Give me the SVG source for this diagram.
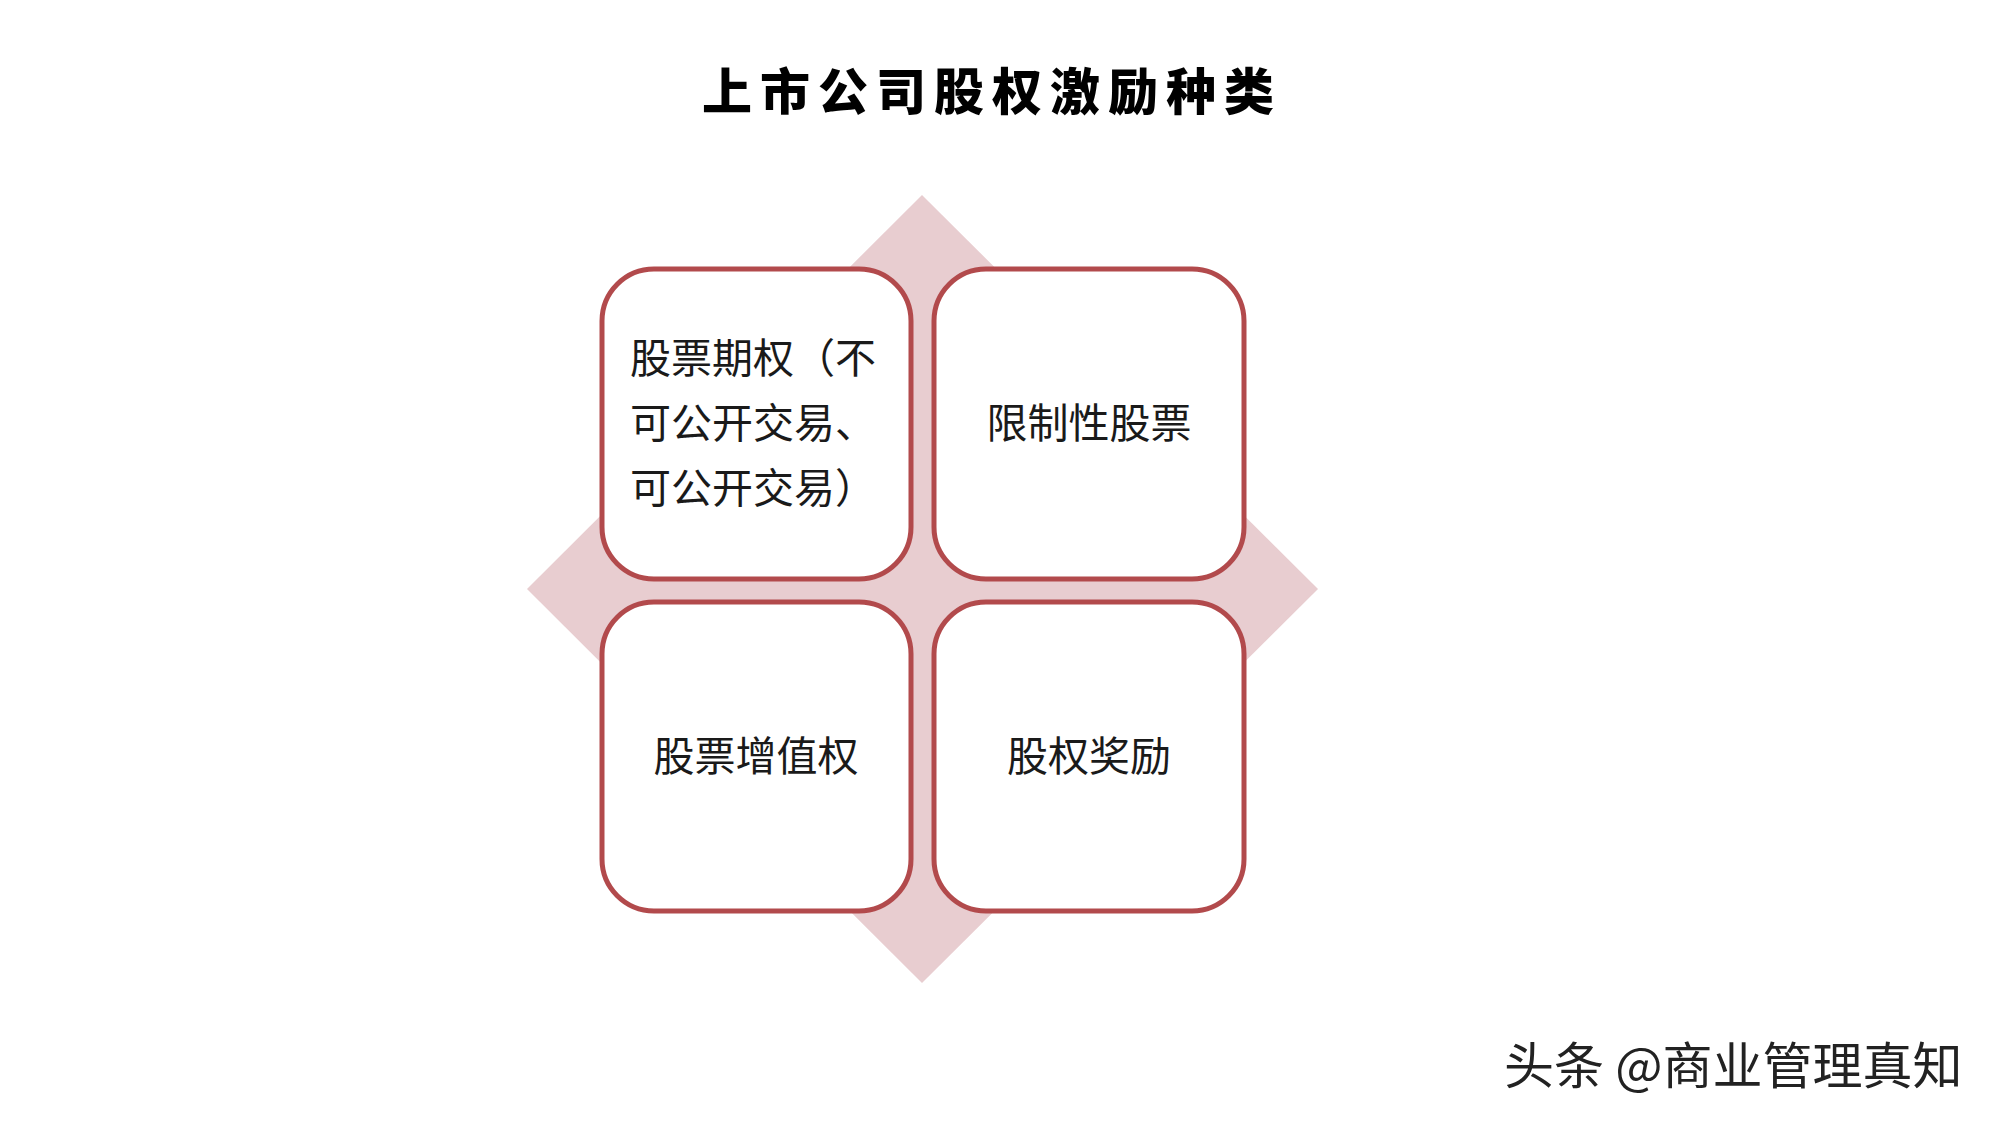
<svg xmlns="http://www.w3.org/2000/svg" width="2000" height="1125" viewBox="0 0 2000 1125">
<style>
.box{fill:#fff;stroke:#b24a4c;stroke-width:5}
.t{font-family:"Noto Sans CJK SC","Noto Sans",sans-serif;font-size:41px;fill:#1a1a1a}
</style>
<rect width="2000" height="1125" fill="#fff"/>
<text x="992" y="110" text-anchor="middle" font-family="Noto Sans CJK SC,sans-serif" font-weight="900" font-size="50" letter-spacing="8" fill="#000">上市公司股权激励种类</text>
<polygon points="922,195 1318,589 922,983 527,589" fill="#e8cdd0"/>
<g id="n1"><rect class="box" x="602" y="269" width="309" height="310" rx="52"/>
<text class="t" x="630" y="373">股票期权（不</text><text class="t" x="630" y="438">可公开交易、</text><text class="t" x="630" y="503">可公开交易）</text></g>
<g id="n2"><rect class="box" x="934" y="269" width="310" height="310" rx="52"/>
<text class="t" x="1089" y="438" text-anchor="middle">限制性股票</text></g>
<g id="n3"><rect class="box" x="602" y="602" width="309" height="309" rx="52"/>
<text class="t" x="756" y="771" text-anchor="middle">股票增值权</text></g>
<g id="n4"><rect class="box" x="934" y="602" width="310" height="309" rx="52"/>
<text class="t" x="1089" y="771" text-anchor="middle">股权奖励</text></g>
<g id="connectors"/>
<text x="1504" y="1084" font-family="Noto Sans CJK SC,sans-serif" font-size="50" fill="#222">头条 @商业管理真知</text>
</svg>
